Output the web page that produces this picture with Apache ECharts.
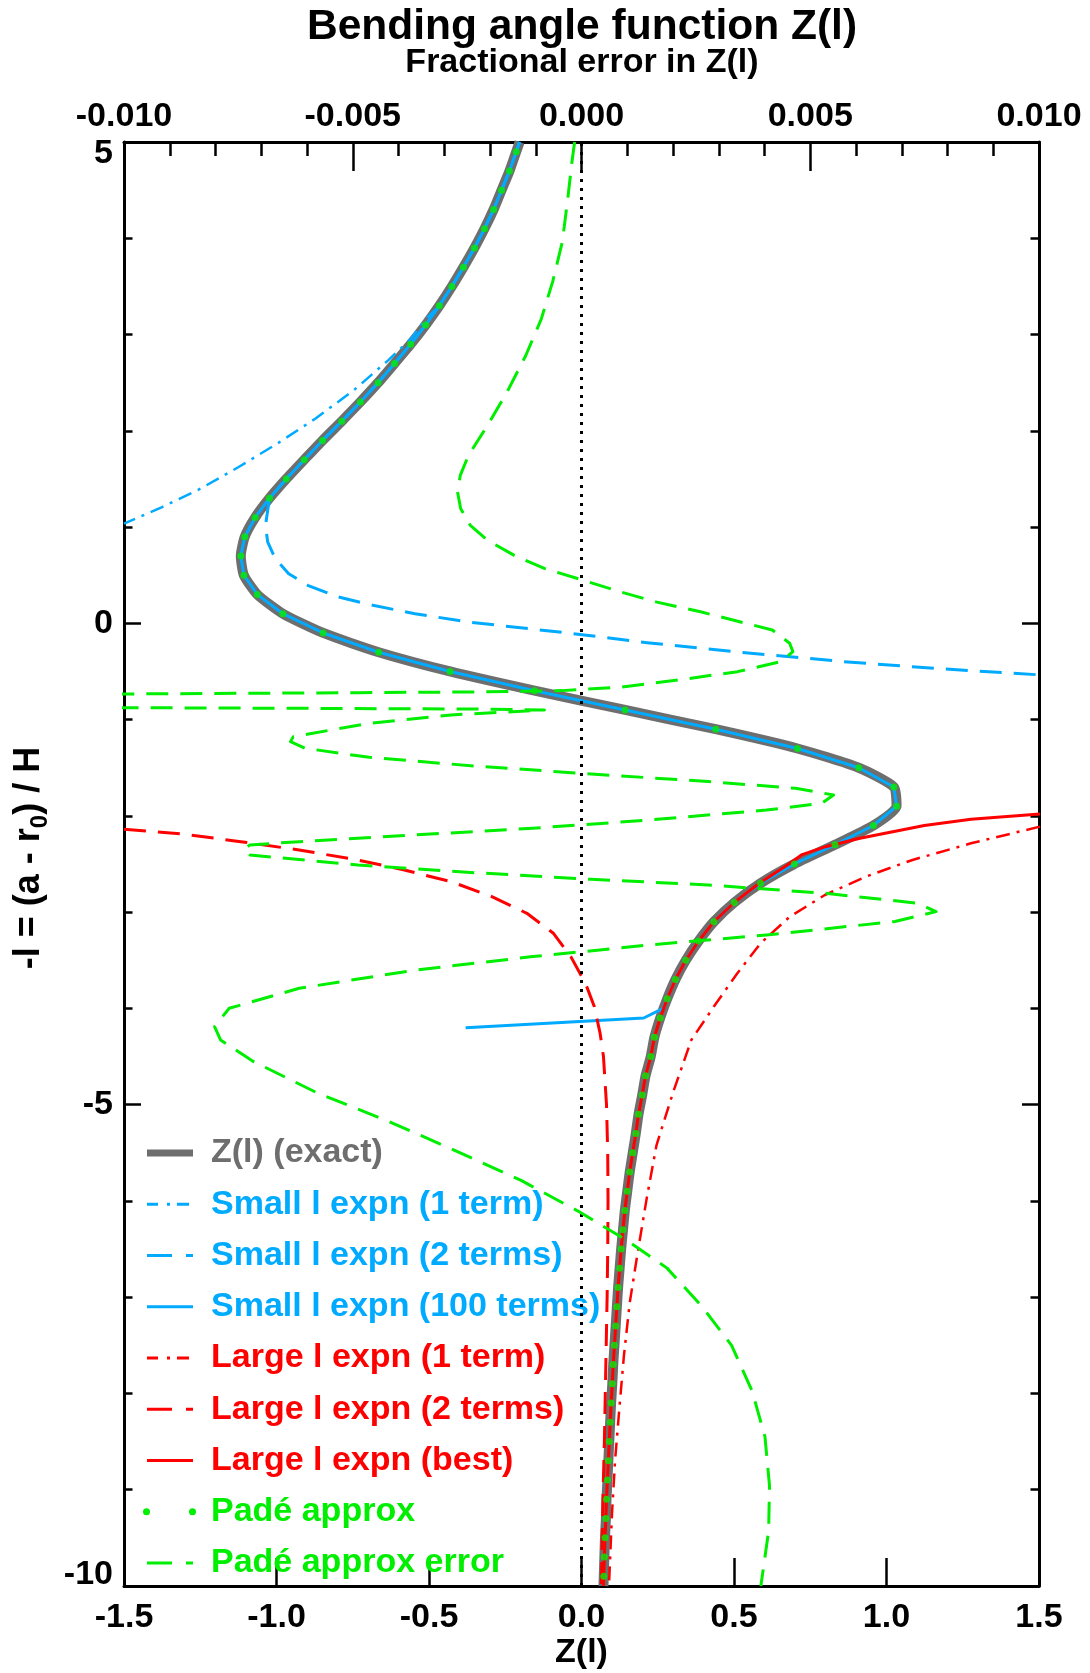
<!DOCTYPE html>
<html><head><meta charset="utf-8">
<script src="https://cdn.jsdelivr.net/npm/echarts@6/dist/echarts.min.js"></script>
<style>html,body{margin:0;padding:0;background:#fff}#c{width:1090px;height:1673px}</style>
</head><body><div id="c"></div>
<script>
// ---------- DATA ----------
const TITLE = 'Bending angle function Z(l)';
const SUBTITLE = 'Fractional error in Z(l)';
const X_TICKS = [-1.5, -1.0, -0.5, 0.0, 0.5, 1.0, 1.5];
const ERR_TICKS = [-0.010, -0.005, 0.000, 0.005, 0.010];
const Y_TICKS = [-10, -5, 0, 5];

// l grid of the Padé dots (and exact curve samples)
const L_GRID = [4.9,4.7,4.5,4.3,4.1,3.9,3.7,3.5,3.3,3.1,2.9,2.7,2.5,2.3,2.1,1.9,1.7,1.5,1.3,1.1,0.9,0.7,0.5,0.3,0.1,
  -0.1,-0.3,-0.5,-0.7,-0.9,-1.1,-1.3,-1.5,-1.7,-1.9,-2.1,-2.3,-2.5,-2.7,-2.9,-3.1,-3.3,-3.5,-3.7,-3.9,
  -4.1,-4.3,-4.5,-4.7,-4.9,-5.1,-5.3,-5.5,-5.7,-5.9,-6.1,-6.3,-6.5,-6.7,-6.9,-7.1,-7.3,-7.5,-7.7,-7.9,
  -8.1,-8.3,-8.5,-8.7,-8.9,-9.1,-9.3,-9.5,-9.7,-9.9];
const Z_EXACT = [-0.214,-0.236,-0.262,-0.288,-0.318,-0.351,-0.387,-0.425,-0.466,-0.511,-0.560,-0.613,-0.667,-0.725,-0.786,-0.849,-0.909,-0.968,-1.023,-1.070,-1.104,-1.117,-1.107,-1.063,-0.979,
  -0.847,-0.665,-0.431,-0.154,0.143,0.440,0.708,0.909,1.024,1.033,0.957,0.831,0.698,0.587,0.501,0.434,0.384,0.342,0.308,0.281,
  0.258,0.239,0.227,0.210,0.199,0.187,0.178,0.168,0.158,0.150,0.142,0.136,0.130,0.125,0.120,0.116,0.112,0.108,0.104,0.101,
  0.097,0.094,0.091,0.088,0.085,0.082,0.080,0.077,0.075,0.073];
const EXACT_TOP = [-0.203, 5.0];
const EXACT_BOTTOM = [0.072, -10.0];

// Small l expansion, 1 term
const S1_L = [5.0,4.9,4.7,4.5,4.3,4.1,3.9,3.7,3.5,3.3,3.165,2.957,2.732,2.42,2.126,1.866,1.624,1.399,1.208,1.035];
const S1_Z = [-0.203,-0.214,-0.236,-0.262,-0.288,-0.318,-0.351,-0.387,-0.425,-0.466,-0.509,-0.559,-0.634,-0.747,-0.873,-0.998,-1.124,-1.249,-1.375,-1.5];

// Small l expansion, 2 terms
const S2_L = [5.0,4.9,4.7,4.5,4.3,4.1,3.9,3.7,3.5,3.3,3.1,2.9,2.7,2.5,2.3,2.1,1.9,1.7,1.5,1.3,
  1.018,0.845,0.672,0.516,0.395,0.274,0.187,0.100,0.014,-0.104,-0.201,-0.30,-0.398,-0.47,-0.535];
const S2_Z = [-0.203,-0.214,-0.236,-0.262,-0.288,-0.318,-0.351,-0.387,-0.425,-0.466,-0.511,-0.560,-0.613,-0.667,-0.725,-0.786,-0.849,-0.909,-0.968,-1.023,
  -1.036,-1.029,-1.004,-0.960,-0.898,-0.797,-0.684,-0.546,-0.371,-0.035,0.215,0.52,0.86,1.17,1.5];

// Small l expansion, 100 terms
const S100_L = [5.0,4.9,4.7,4.5,4.3,4.1,3.9,3.7,3.5,3.3,3.1,2.9,2.7,2.5,2.3,2.1,1.9,1.7,1.5,1.3,1.1,0.9,0.7,0.5,0.3,0.1,
  -0.1,-0.3,-0.5,-0.7,-0.9,-1.1,-1.3,-1.5,-1.7,-1.9,-2.1,-2.3,-2.5,-2.7,-2.9,-3.1,-3.3,-3.5,-3.7,-3.9,-4.0,-4.1,-4.2];
const S100_Z = [-0.203,-0.214,-0.236,-0.262,-0.288,-0.318,-0.351,-0.387,-0.425,-0.466,-0.511,-0.560,-0.613,-0.667,-0.725,-0.786,-0.849,-0.909,-0.968,-1.023,-1.070,-1.104,-1.117,-1.107,-1.063,-0.979,
  -0.847,-0.665,-0.431,-0.154,0.143,0.440,0.708,0.909,1.024,1.033,0.957,0.831,0.698,0.587,0.501,0.434,0.384,0.342,0.308,0.281,0.268,0.204,-0.38];

// Large l expansion, 1 term
const L1_L = [-2.112,-2.285,-2.458,-2.631,-2.822,-3.047,-3.324,-3.635,-3.981,-4.328,-4.875,-5.42,-5.97,-6.52,-7.06,-7.61,-8.16,-8.70,-9.25,-10.0];
const L1_Z = [1.503,1.277,1.085,0.932,0.798,0.683,0.587,0.511,0.434,0.360,0.300,0.246,0.214,0.185,0.158,0.139,0.124,0.110,0.100,0.090];

// Large l expansion, 2 terms
const L2_L = [-2.139,-2.188,-2.268,-2.354,-2.458,-2.562,-2.683,-2.839,-3.012,-3.22,-3.462,-3.739,-3.981,-4.259,-4.5,-5.0,-5.5,-6.0,-6.5,-7.0,-7.5,-8.0,-8.5,-9.0,-9.5,-10.0];
const L2_Z = [-1.5,-1.309,-1.117,-0.926,-0.734,-0.581,-0.428,-0.294,-0.179,-0.092,-0.035,0.013,0.042,0.061,0.072,0.082,0.086,0.087,0.086,0.084,0.081,0.078,0.075,0.071,0.068,0.065];

// Large l expansion, best
const LB_L = [-1.98,-2.036,-2.101,-2.233,-2.32,-2.406,-2.5,-2.7,-2.9,-3.1,-3.3,-3.5,-3.7,-3.9,-4.1,-4.3,-4.5,-4.7,-4.9,-5.1,-5.3,-5.5,-5.7,-5.9,
  -6.1,-6.3,-6.5,-6.7,-6.9,-7.1,-7.3,-7.5,-7.7,-7.9,-8.1,-8.3,-8.5,-8.7,-8.9,-9.1,-9.3,-9.5,-9.7,-9.9,-10.0];
const LB_Z = [1.503,1.277,1.124,0.913,0.80,0.721,0.68,0.583,0.501,0.434,0.384,0.342,0.308,0.281,0.258,0.239,0.227,0.210,0.199,0.187,0.178,0.168,0.158,0.150,
  0.142,0.136,0.130,0.125,0.120,0.116,0.112,0.108,0.104,0.101,0.097,0.094,0.091,0.088,0.085,0.082,0.080,0.077,0.075,0.073,0.072];

// Padé approximation fractional error (top axis)
const ERR_L = [5.0,4.79,4.41,3.96,3.55,3.16,2.78,2.40,2.06,1.745,1.537,1.364,1.191,1.018,0.862,0.706,0.568,0.447,0.325,0.22,0.12,
  -0.069,-0.207,-0.294,-0.398,-0.502,-0.588,-0.664,-0.699,-0.713,-0.720,-0.727,-0.734,-0.80,-0.87,
  -0.876,-0.883,-0.890,-0.900,-0.952,-1.038,-1.177,-1.229,-1.298,-1.392,-1.482,-1.565,-1.644,-1.714,-1.783,
  -1.87,-1.94,-2.043,-2.129,-2.198,-2.268,-2.302,-2.354,-2.406,-2.51,-2.59,-2.659,-2.718,-2.804,-2.908,-2.995,
  -3.098,-3.237,-3.341,-3.462,-3.601,-3.791,-3.999,-4.189,-4.328,-4.547,-4.875,-5.167,-5.458,-5.787,-6.115,
  -6.407,-6.698,-7.10,-7.50,-7.975,-8.449,-8.96,-9.43,-10.0];
const ERR_V = [-0.00015,-0.00021,-0.00030,-0.00042,-0.00063,-0.00088,-0.00122,-0.00163,-0.00205,-0.00247,-0.00265,-0.00271,-0.00264,-0.00243,-0.00205,-0.00147,-0.00080,0.00004,0.00087,0.00165,0.00260,
  0.00417,0.00455,0.00462,0.00436,0.00341,0.00213,0.00085,-0.00043,-0.00234,-0.00489,-0.00745,-0.01,-0.02,-0.013,
  -0.01,-0.00617,-0.00234,-0.00081,-0.00285,-0.00464,-0.00630,-0.00636,-0.00604,-0.00464,-0.00234,0.00021,0.00277,0.00468,0.00551,
  0.00525,0.00404,0.00149,-0.00107,-0.00362,-0.00617,-0.00725,-0.00738,-0.00725,-0.00489,-0.00234,0.00021,0.00277,0.00532,0.00736,0.00775,
  0.00685,0.00404,0.00149,-0.00107,-0.00362,-0.00617,-0.00770,-0.00802,-0.00789,-0.00719,-0.00579,-0.00425,-0.00285,-0.00132,-0.00004,
  0.00098,0.00187,0.00264,0.00328,0.00373,0.00401,0.00411,0.00409,0.00392];

const NAMES = ['Z(l) (exact)','Small l expn (1 term)','Small l expn (2 terms)','Small l expn (100 terms)',
  'Large l expn (1 term)','Large l expn (2 terms)','Large l expn (best)','Padé approx','Padé approx error'];

// ---------- STYLE ----------
const FONT = '"Liberation Sans", Arial, Helvetica, sans-serif';
const GRAY = '#6e6e6e', BLUE = '#00aaff', RED = '#ff0000', GREEN = '#00ee00';
const DASH = [22, 12], DASHDOT = [14, 7, 3, 7];

function pairs(ls, zs) { return ls.map((l, i) => [zs[i], l]); }

const chart = echarts.init(document.getElementById('c'), null, {renderer: 'canvas'});

const labelBase = {fontSize: 34, fontWeight: 'bold', color: '#000', fontFamily: FONT};
const tickStyle = {color: '#000', width: 2.5};

function lineSeries(name, data, color, width, type, z, extra) {
  return Object.assign({
    name, type: 'line', data, symbol: 'none', silent: true, animation: false, clip: true, z,
    lineStyle: {color, width, type, cap: 'butt', join: 'round'}, itemStyle: {color},
    emphasis: {disabled: true}
  }, extra || {});
}

const series = [
  lineSeries(NAMES[0], [EXACT_TOP].concat(pairs(L_GRID, Z_EXACT), [EXACT_BOTTOM]), GRAY, 10, 'solid', 2, {
    smooth: 0.2,
    markLine: {silent: true, symbol: 'none', animation: false, label: {show: false},
      lineStyle: {color: '#000', width: 3, type: [3, 6]}, data: [{xAxis: 0}]}
  }),
  lineSeries(NAMES[1], pairs(S1_L, S1_Z), BLUE, 2.5, DASHDOT, 3),
  lineSeries(NAMES[2], pairs(S2_L, S2_Z), BLUE, 3, DASH, 3),
  lineSeries(NAMES[3], pairs(S100_L, S100_Z), BLUE, 3, 'solid', 3),
  lineSeries(NAMES[4], pairs(L1_L, L1_Z), RED, 2.5, DASHDOT, 3),
  lineSeries(NAMES[5], pairs(L2_L, L2_Z), RED, 3, DASH, 3),
  lineSeries(NAMES[6], pairs(LB_L, LB_Z), RED, 3, 'solid', 3),
  {name: NAMES[7], type: 'scatter', data: pairs(L_GRID, Z_EXACT), symbol: 'circle', symbolSize: 7, z: 4,
   itemStyle: {color: GREEN}, silent: true, animation: false, emphasis: {disabled: true}},
  lineSeries(NAMES[8], pairs(ERR_L, ERR_V), GREEN, 3, DASH, 5, {xAxisIndex: 1})
];

// legend rows (one legend component per row)
const LEG = [
  {color: GRAY, icon: 'path://M0,0h46v7h-46z', w: 46, h: 7, left: 147},
  {color: BLUE, icon: 'path://M0,0h11v3h-11zM20,0h3v3h-3zM30,0h12v3h-12z', w: 42, h: 3, left: 147},
  {color: BLUE, icon: 'path://M0,0h25v3h-25zM39,0h7v3h-7z', w: 46, h: 3, left: 147},
  {color: BLUE, icon: 'path://M0,0h46v3h-46z', w: 46, h: 3, left: 147},
  {color: RED, icon: 'path://M0,0h11v3h-11zM20,0h3v3h-3zM30,0h12v3h-12z', w: 42, h: 3, left: 147},
  {color: RED, icon: 'path://M0,0h25v3h-25zM39,0h7v3h-7z', w: 46, h: 3, left: 147},
  {color: RED, icon: 'path://M0,0h46v3h-46z', w: 46, h: 3, left: 147},
  {color: GREEN, icon: 'path://M0,3.5a3.5,3.5 0 1,0 7,0a3.5,3.5 0 1,0 -7,0zM46,3.5a3.5,3.5 0 1,0 7,0a3.5,3.5 0 1,0 -7,0z', w: 53, h: 7, left: 143},
  {color: GREEN, icon: 'path://M0,0h25v3h-25zM39,0h7v3h-7z', w: 46, h: 3, left: 147}
];
const TEXT_X = 211;
const legends = LEG.map((g, i) => ({
  left: g.left, top: 1153 + i * 51.25 - 20, padding: 0, orient: 'vertical',
  selectedMode: false, itemWidth: g.w, itemHeight: g.h,
  formatter: '{g| }{name}',
  textStyle: {fontSize: 34, fontWeight: 'bold', fontFamily: FONT, color: g.color, lineHeight: 40,
    rich: {g: {width: TEXT_X - (g.left + g.w + 5), fontSize: 10}}},
  data: [{name: NAMES[i], icon: g.icon, itemStyle: {color: g.color, borderWidth: 0, opacity: 1},
          textStyle: {color: g.color}}]
}));

const option = {
  animation: false,
  backgroundColor: '#fff',
  textStyle: {fontFamily: FONT},
  title: [
    {text: TITLE, left: 582, top: 6, padding: 0, textAlign: 'center', textVerticalAlign: 'top',
     textStyle: {fontSize: 42.5, fontWeight: 'bold', color: '#000', fontFamily: FONT}},
    {text: SUBTITLE, left: 582, top: 46, padding: 0, textAlign: 'center', textVerticalAlign: 'top',
     textStyle: {fontSize: 34, fontWeight: 'bold', color: '#000', fontFamily: FONT}}
  ],
  legend: legends,
  grid: {left: 124, right: 51, top: 142, bottom: 87, containLabel: false, outerBoundsMode: 'none'},
  xAxis: [
    {type: 'value', position: 'bottom', min: X_TICKS[0], max: X_TICKS[X_TICKS.length - 1], interval: 0.5,
     axisLine: {show: true, onZero: false, lineStyle: {color: '#000', width: 3}},
     axisTick: {show: true, inside: true, length: 28, lineStyle: tickStyle},
     axisLabel: Object.assign({margin: 15, formatter: v => v.toFixed(1)}, labelBase),
     splitLine: {show: false},
     name: 'Z(l)', nameLocation: 'middle', nameGap: 50, nameMoveOverlap: false,
     nameTextStyle: labelBase},
    {type: 'value', position: 'top', min: ERR_TICKS[0], max: ERR_TICKS[ERR_TICKS.length - 1], interval: 0.005,
     axisLine: {show: true, onZero: false, lineStyle: {color: '#000', width: 3}},
     axisTick: {show: true, inside: true, length: 29, lineStyle: tickStyle},
     minorTick: {show: true, splitNumber: 5, length: 14, lineStyle: tickStyle},
     axisLabel: Object.assign({margin: 8, formatter: v => (Math.abs(v) < 1e-12 ? 0 : v).toFixed(3)}, labelBase),
     splitLine: {show: false}, minorSplitLine: {show: false}}
  ],
  yAxis: [
    {type: 'value', position: 'left', min: Y_TICKS[0], max: Y_TICKS[Y_TICKS.length - 1], interval: 5,
     axisLine: {show: true, onZero: false, lineStyle: {color: '#000', width: 3}},
     axisTick: {show: true, inside: true, length: 17, lineStyle: tickStyle},
     minorTick: {show: true, splitNumber: 5, length: 8.5, lineStyle: tickStyle},
     axisLabel: Object.assign({margin: 11, lineHeight: 23, formatter: v => String(v),
       verticalAlignMaxLabel: 'top', verticalAlignMinLabel: 'bottom'}, labelBase),
     splitLine: {show: false}, minorSplitLine: {show: false},
     name: '-l = (a - r{sub|0}) / H', nameLocation: 'middle', nameGap: 72, nameRotate: 90, nameMoveOverlap: false,
     nameTextStyle: Object.assign({}, labelBase, {fontSize: 36, lineHeight: 46, padding: [0, 0, 0, 12],
       rich: {sub: {fontSize: 24, fontWeight: 'bold', fontFamily: FONT,
       color: '#000', verticalAlign: 'bottom', lineHeight: 28}}})},
    {type: 'value', position: 'right', min: Y_TICKS[0], max: Y_TICKS[Y_TICKS.length - 1], interval: 5,
     axisLine: {show: true, onZero: false, lineStyle: {color: '#000', width: 3}},
     axisTick: {show: true, inside: true, length: 17, lineStyle: tickStyle},
     minorTick: {show: true, splitNumber: 5, length: 8.5, lineStyle: tickStyle},
     axisLabel: {show: false}, splitLine: {show: false}, minorSplitLine: {show: false}}
  ],
  series
};
chart.setOption(option);
</script></body></html>
